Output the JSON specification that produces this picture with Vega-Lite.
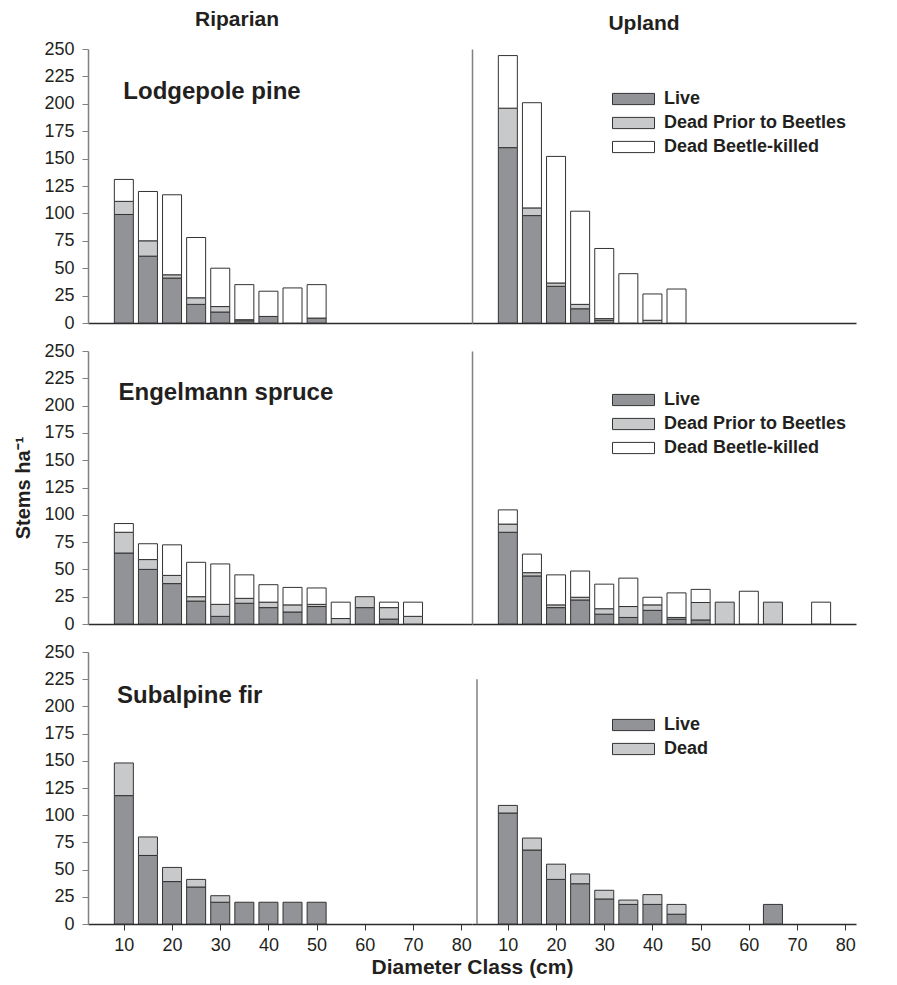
{
  "$schema": "https://vega.github.io/schema/vega-lite/v6.json",
  "background": "white",
  "padding": {"left": 13, "top": 9, "right": 5, "bottom": 5},
  "config": {
    "font": "Liberation Sans",
    "view": {"stroke": null},
    "bar": {"stroke": "#333333", "strokeWidth": 1},
    "axis": {"grid": false, "labelFontSize": 18, "labelColor": "#231f20", "labelFont": "Liberation Sans", "titleFont": "Liberation Sans", "titleFontWeight": "bold", "titleColor": "#231f20", "labelFlush": false, "labelOverlap": false},
    "title": {"font": "Liberation Sans", "fontSize": 21, "fontWeight": "bold", "color": "#231f20"},
    "legend": {"title": null, "symbolType": "M-3,-0.8H3V0.8H-3Z", "symbolSize": 196, "symbolStrokeColor": "#333333", "symbolStrokeWidth": 1, "labelFont": "Liberation Sans", "labelFontSize": 18, "labelFontWeight": "bold", "labelColor": "#231f20", "labelOffset": 21.5, "labelLimit": 0, "rowPadding": 6, "padding": 0}
  },
  "datasets": {
    "lp": [
      {"site": "Riparian", "d": 10, "status": "Live", "n": 99}, {"site": "Riparian", "d": 10, "status": "Dead Prior to Beetles", "n": 12}, {"site": "Riparian", "d": 10, "status": "Dead Beetle-killed", "n": 20},
      {"site": "Riparian", "d": 15, "status": "Live", "n": 61}, {"site": "Riparian", "d": 15, "status": "Dead Prior to Beetles", "n": 14}, {"site": "Riparian", "d": 15, "status": "Dead Beetle-killed", "n": 45},
      {"site": "Riparian", "d": 20, "status": "Live", "n": 41}, {"site": "Riparian", "d": 20, "status": "Dead Prior to Beetles", "n": 3}, {"site": "Riparian", "d": 20, "status": "Dead Beetle-killed", "n": 73},
      {"site": "Riparian", "d": 25, "status": "Live", "n": 17}, {"site": "Riparian", "d": 25, "status": "Dead Prior to Beetles", "n": 6}, {"site": "Riparian", "d": 25, "status": "Dead Beetle-killed", "n": 55},
      {"site": "Riparian", "d": 30, "status": "Live", "n": 10}, {"site": "Riparian", "d": 30, "status": "Dead Prior to Beetles", "n": 5}, {"site": "Riparian", "d": 30, "status": "Dead Beetle-killed", "n": 35},
      {"site": "Riparian", "d": 35, "status": "Live", "n": 2}, {"site": "Riparian", "d": 35, "status": "Dead Prior to Beetles", "n": 1}, {"site": "Riparian", "d": 35, "status": "Dead Beetle-killed", "n": 32},
      {"site": "Riparian", "d": 40, "status": "Live", "n": 6}, {"site": "Riparian", "d": 40, "status": "Dead Beetle-killed", "n": 23},
      {"site": "Riparian", "d": 45, "status": "Dead Beetle-killed", "n": 32},
      {"site": "Riparian", "d": 50, "status": "Live", "n": 4.5}, {"site": "Riparian", "d": 50, "status": "Dead Beetle-killed", "n": 30.5},
      {"site": "Upland", "d": 10, "status": "Live", "n": 160}, {"site": "Upland", "d": 10, "status": "Dead Prior to Beetles", "n": 36}, {"site": "Upland", "d": 10, "status": "Dead Beetle-killed", "n": 48},
      {"site": "Upland", "d": 15, "status": "Live", "n": 98}, {"site": "Upland", "d": 15, "status": "Dead Prior to Beetles", "n": 7}, {"site": "Upland", "d": 15, "status": "Dead Beetle-killed", "n": 96},
      {"site": "Upland", "d": 20, "status": "Live", "n": 33.5}, {"site": "Upland", "d": 20, "status": "Dead Prior to Beetles", "n": 3}, {"site": "Upland", "d": 20, "status": "Dead Beetle-killed", "n": 115.5},
      {"site": "Upland", "d": 25, "status": "Live", "n": 13}, {"site": "Upland", "d": 25, "status": "Dead Prior to Beetles", "n": 4}, {"site": "Upland", "d": 25, "status": "Dead Beetle-killed", "n": 85},
      {"site": "Upland", "d": 30, "status": "Live", "n": 2.5}, {"site": "Upland", "d": 30, "status": "Dead Prior to Beetles", "n": 1.5}, {"site": "Upland", "d": 30, "status": "Dead Beetle-killed", "n": 64},
      {"site": "Upland", "d": 35, "status": "Dead Beetle-killed", "n": 45},
      {"site": "Upland", "d": 40, "status": "Dead Prior to Beetles", "n": 2.5}, {"site": "Upland", "d": 40, "status": "Dead Beetle-killed", "n": 24},
      {"site": "Upland", "d": 45, "status": "Dead Beetle-killed", "n": 31}
    ],
    "es": [
      {"site": "Riparian", "d": 10, "status": "Live", "n": 65}, {"site": "Riparian", "d": 10, "status": "Dead Prior to Beetles", "n": 19}, {"site": "Riparian", "d": 10, "status": "Dead Beetle-killed", "n": 8},
      {"site": "Riparian", "d": 15, "status": "Live", "n": 50}, {"site": "Riparian", "d": 15, "status": "Dead Prior to Beetles", "n": 9}, {"site": "Riparian", "d": 15, "status": "Dead Beetle-killed", "n": 14.5},
      {"site": "Riparian", "d": 20, "status": "Live", "n": 37}, {"site": "Riparian", "d": 20, "status": "Dead Prior to Beetles", "n": 7.5}, {"site": "Riparian", "d": 20, "status": "Dead Beetle-killed", "n": 28},
      {"site": "Riparian", "d": 25, "status": "Live", "n": 21}, {"site": "Riparian", "d": 25, "status": "Dead Prior to Beetles", "n": 4}, {"site": "Riparian", "d": 25, "status": "Dead Beetle-killed", "n": 31.5},
      {"site": "Riparian", "d": 30, "status": "Live", "n": 7}, {"site": "Riparian", "d": 30, "status": "Dead Prior to Beetles", "n": 11}, {"site": "Riparian", "d": 30, "status": "Dead Beetle-killed", "n": 37},
      {"site": "Riparian", "d": 35, "status": "Live", "n": 19}, {"site": "Riparian", "d": 35, "status": "Dead Prior to Beetles", "n": 4.5}, {"site": "Riparian", "d": 35, "status": "Dead Beetle-killed", "n": 21.5},
      {"site": "Riparian", "d": 40, "status": "Live", "n": 15}, {"site": "Riparian", "d": 40, "status": "Dead Prior to Beetles", "n": 5}, {"site": "Riparian", "d": 40, "status": "Dead Beetle-killed", "n": 16},
      {"site": "Riparian", "d": 45, "status": "Live", "n": 11}, {"site": "Riparian", "d": 45, "status": "Dead Prior to Beetles", "n": 6.5}, {"site": "Riparian", "d": 45, "status": "Dead Beetle-killed", "n": 16},
      {"site": "Riparian", "d": 50, "status": "Live", "n": 16}, {"site": "Riparian", "d": 50, "status": "Dead Prior to Beetles", "n": 2}, {"site": "Riparian", "d": 50, "status": "Dead Beetle-killed", "n": 15},
      {"site": "Riparian", "d": 55, "status": "Dead Prior to Beetles", "n": 5}, {"site": "Riparian", "d": 55, "status": "Dead Beetle-killed", "n": 15},
      {"site": "Riparian", "d": 60, "status": "Live", "n": 15}, {"site": "Riparian", "d": 60, "status": "Dead Prior to Beetles", "n": 10},
      {"site": "Riparian", "d": 65, "status": "Live", "n": 4.5}, {"site": "Riparian", "d": 65, "status": "Dead Prior to Beetles", "n": 10.5}, {"site": "Riparian", "d": 65, "status": "Dead Beetle-killed", "n": 5},
      {"site": "Riparian", "d": 70, "status": "Dead Prior to Beetles", "n": 7}, {"site": "Riparian", "d": 70, "status": "Dead Beetle-killed", "n": 13},
      {"site": "Upland", "d": 10, "status": "Live", "n": 84}, {"site": "Upland", "d": 10, "status": "Dead Prior to Beetles", "n": 7.5}, {"site": "Upland", "d": 10, "status": "Dead Beetle-killed", "n": 13},
      {"site": "Upland", "d": 15, "status": "Live", "n": 44}, {"site": "Upland", "d": 15, "status": "Dead Prior to Beetles", "n": 3}, {"site": "Upland", "d": 15, "status": "Dead Beetle-killed", "n": 17},
      {"site": "Upland", "d": 20, "status": "Live", "n": 15}, {"site": "Upland", "d": 20, "status": "Dead Prior to Beetles", "n": 2.5}, {"site": "Upland", "d": 20, "status": "Dead Beetle-killed", "n": 27.5},
      {"site": "Upland", "d": 25, "status": "Live", "n": 22}, {"site": "Upland", "d": 25, "status": "Dead Prior to Beetles", "n": 2.5}, {"site": "Upland", "d": 25, "status": "Dead Beetle-killed", "n": 24},
      {"site": "Upland", "d": 30, "status": "Live", "n": 9}, {"site": "Upland", "d": 30, "status": "Dead Prior to Beetles", "n": 5}, {"site": "Upland", "d": 30, "status": "Dead Beetle-killed", "n": 22.5},
      {"site": "Upland", "d": 35, "status": "Live", "n": 6}, {"site": "Upland", "d": 35, "status": "Dead Prior to Beetles", "n": 10}, {"site": "Upland", "d": 35, "status": "Dead Beetle-killed", "n": 26},
      {"site": "Upland", "d": 40, "status": "Live", "n": 12.5}, {"site": "Upland", "d": 40, "status": "Dead Prior to Beetles", "n": 5}, {"site": "Upland", "d": 40, "status": "Dead Beetle-killed", "n": 7},
      {"site": "Upland", "d": 45, "status": "Live", "n": 4.5}, {"site": "Upland", "d": 45, "status": "Dead Prior to Beetles", "n": 1.5}, {"site": "Upland", "d": 45, "status": "Dead Beetle-killed", "n": 22.5},
      {"site": "Upland", "d": 50, "status": "Live", "n": 3.7}, {"site": "Upland", "d": 50, "status": "Dead Prior to Beetles", "n": 16}, {"site": "Upland", "d": 50, "status": "Dead Beetle-killed", "n": 12},
      {"site": "Upland", "d": 55, "status": "Dead Prior to Beetles", "n": 20},
      {"site": "Upland", "d": 60, "status": "Dead Beetle-killed", "n": 30},
      {"site": "Upland", "d": 65, "status": "Dead Prior to Beetles", "n": 20},
      {"site": "Upland", "d": 75, "status": "Dead Beetle-killed", "n": 20}
    ],
    "sf": [
      {"site": "Riparian", "d": 10, "status": "Live", "n": 118}, {"site": "Riparian", "d": 10, "status": "Dead", "n": 30},
      {"site": "Riparian", "d": 15, "status": "Live", "n": 63}, {"site": "Riparian", "d": 15, "status": "Dead", "n": 17},
      {"site": "Riparian", "d": 20, "status": "Live", "n": 39}, {"site": "Riparian", "d": 20, "status": "Dead", "n": 13},
      {"site": "Riparian", "d": 25, "status": "Live", "n": 34}, {"site": "Riparian", "d": 25, "status": "Dead", "n": 7},
      {"site": "Riparian", "d": 30, "status": "Live", "n": 20}, {"site": "Riparian", "d": 30, "status": "Dead", "n": 6},
      {"site": "Riparian", "d": 35, "status": "Live", "n": 20},
      {"site": "Riparian", "d": 40, "status": "Live", "n": 20},
      {"site": "Riparian", "d": 45, "status": "Live", "n": 20},
      {"site": "Riparian", "d": 50, "status": "Live", "n": 20},
      {"site": "Upland", "d": 10, "status": "Live", "n": 102}, {"site": "Upland", "d": 10, "status": "Dead", "n": 7},
      {"site": "Upland", "d": 15, "status": "Live", "n": 68}, {"site": "Upland", "d": 15, "status": "Dead", "n": 11},
      {"site": "Upland", "d": 20, "status": "Live", "n": 41}, {"site": "Upland", "d": 20, "status": "Dead", "n": 14},
      {"site": "Upland", "d": 25, "status": "Live", "n": 37}, {"site": "Upland", "d": 25, "status": "Dead", "n": 9},
      {"site": "Upland", "d": 30, "status": "Live", "n": 23}, {"site": "Upland", "d": 30, "status": "Dead", "n": 8},
      {"site": "Upland", "d": 35, "status": "Live", "n": 18}, {"site": "Upland", "d": 35, "status": "Dead", "n": 4},
      {"site": "Upland", "d": 40, "status": "Live", "n": 18}, {"site": "Upland", "d": 40, "status": "Dead", "n": 9},
      {"site": "Upland", "d": 45, "status": "Live", "n": 9}, {"site": "Upland", "d": 45, "status": "Dead", "n": 9},
      {"site": "Upland", "d": 65, "status": "Live", "n": 18}
    ]
  },
  "columns": 2,
  "spacing": {"row": 28, "column": 0},
  "bounds": "flush",
  "resolve": {"scale": {"color": "independent", "x": "independent", "y": "independent"}, "legend": {"color": "independent"}, "axis": {"x": "independent", "y": "independent"}},
  "concat": [
    {
      "width": 384, "height": 274,
      "title": {"text": "Riparian", "dx": -43, "offset": 10},
      "layer": [
        {
          "data": {"name": "lp"}, "transform": [{"filter": "datum.site === 'Riparian'"}],
          "mark": {"type": "bar", "size": 19},
          "encoding": {
            "x": {"field": "d", "type": "quantitative", "scale": {"domain": [3.6, 81.2], "nice": false, "zero": false}, "axis": {"labels": false, "ticks": false, "title": null, "domainColor": "#2b2b2b", "domainWidth": 1.5}},
            "y": {"field": "n", "type": "quantitative", "stack": "zero", "title": null, "scale": {"domain": [0, 250], "nice": false}, "axis": {"values": [0, 25, 50, 75, 100, 125, 150, 175, 200, 225, 250], "labelOverlap": false, "tickSize": 6, "labelPadding": 8, "domainColor": "#808080", "tickColor": "#808080", "domainWidth": 1.5}},
            "color": {"field": "status", "type": "nominal", "sort": ["Live", "Dead Prior to Beetles", "Dead Beetle-killed"], "scale": {"domain": ["Live", "Dead Prior to Beetles", "Dead Beetle-killed"], "range": ["#929397", "#c8c9cb", "#ffffff"]}, "legend": null}
          }
        },
        {
          "data": {"values": [{"label": "Lodgepole pine"}]},
          "mark": {"type": "text", "align": "left", "baseline": "alphabetic", "fontSize": 24, "fontWeight": "bold", "color": "#231f20"},
          "encoding": {
            "x": {"datum": 9.9, "type": "quantitative", "axis": {"labels": false, "ticks": false, "title": null, "domainColor": "#2b2b2b", "domainWidth": 1.5}},
            "y": {"datum": 204.7, "type": "quantitative", "title": null, "axis": {"values": [0, 25, 50, 75, 100, 125, 150, 175, 200, 225, 250], "labelOverlap": false, "tickSize": 6, "labelPadding": 8, "domainColor": "#808080", "tickColor": "#808080", "domainWidth": 1.5}},
            "text": {"field": "label"}
          }
        }
      ]
    },
    {
      "width": 384, "height": 274,
      "title": {"text": "Upland", "dx": -20, "offset": 15},
      "data": {"name": "lp"}, "transform": [{"filter": "datum.site === 'Upland'"}],
      "mark": {"type": "bar", "size": 19},
      "encoding": {
        "x": {"field": "d", "type": "quantitative", "scale": {"domain": [3.6, 81.2], "nice": false, "zero": false}, "axis": {"labels": false, "ticks": false, "title": null, "domainColor": "#2b2b2b", "domainWidth": 1.5}},
        "y": {"field": "n", "type": "quantitative", "stack": "zero", "title": null, "scale": {"domain": [0, 250], "nice": false}, "axis": {"labels": false, "ticks": false, "domainColor": "#808080", "domainWidth": 1.5}},
        "color": {"field": "status", "type": "nominal", "sort": ["Live", "Dead Prior to Beetles", "Dead Beetle-killed"], "scale": {"domain": ["Live", "Dead Prior to Beetles", "Dead Beetle-killed"], "range": ["#929397", "#c8c9cb", "#ffffff"]}, "legend": {"orient": "none", "legendX": 152.5, "legendY": 41}}
      }
    },
    {
      "width": 384, "height": 273,
      "layer": [
        {
          "data": {"name": "es"}, "transform": [{"filter": "datum.site === 'Riparian'"}],
          "mark": {"type": "bar", "size": 19},
          "encoding": {
            "x": {"field": "d", "type": "quantitative", "scale": {"domain": [3.6, 81.2], "nice": false, "zero": false}, "axis": {"labels": false, "ticks": false, "title": null, "domainColor": "#2b2b2b", "domainWidth": 1.5}},
            "y": {"field": "n", "type": "quantitative", "stack": "zero", "title": "Stems ha⁻¹", "scale": {"domain": [0, 250], "nice": false}, "axis": {"values": [0, 25, 50, 75, 100, 125, 150, 175, 200, 225, 250], "labelOverlap": false, "tickSize": 6, "labelPadding": 8, "domainColor": "#808080", "tickColor": "#808080", "domainWidth": 1.5, "titleFontSize": 20, "titlePadding": 10}},
            "color": {"field": "status", "type": "nominal", "sort": ["Live", "Dead Prior to Beetles", "Dead Beetle-killed"], "scale": {"domain": ["Live", "Dead Prior to Beetles", "Dead Beetle-killed"], "range": ["#929397", "#c8c9cb", "#ffffff"]}, "legend": null}
          }
        },
        {
          "data": {"values": [{"label": "Engelmann spruce"}]},
          "mark": {"type": "text", "align": "left", "baseline": "alphabetic", "fontSize": 24, "fontWeight": "bold", "color": "#231f20"},
          "encoding": {
            "x": {"datum": 8.9, "type": "quantitative", "axis": {"labels": false, "ticks": false, "title": null, "domainColor": "#2b2b2b", "domainWidth": 1.5}},
            "y": {"datum": 205.4, "type": "quantitative", "title": "Stems ha⁻¹", "axis": {"values": [0, 25, 50, 75, 100, 125, 150, 175, 200, 225, 250], "labelOverlap": false, "tickSize": 6, "labelPadding": 8, "domainColor": "#808080", "tickColor": "#808080", "domainWidth": 1.5, "titleFontSize": 20, "titlePadding": 10}},
            "text": {"field": "label"}
          }
        }
      ]
    },
    {
      "width": 384, "height": 273,
      "data": {"name": "es"}, "transform": [{"filter": "datum.site === 'Upland'"}],
      "mark": {"type": "bar", "size": 19},
      "encoding": {
        "x": {"field": "d", "type": "quantitative", "scale": {"domain": [3.6, 81.2], "nice": false, "zero": false}, "axis": {"labels": false, "ticks": false, "title": null, "domainColor": "#2b2b2b", "domainWidth": 1.5}},
        "y": {"field": "n", "type": "quantitative", "stack": "zero", "title": null, "scale": {"domain": [0, 250], "nice": false}, "axis": {"labels": false, "ticks": false, "domainColor": "#808080", "domainWidth": 1.5}},
        "color": {"field": "status", "type": "nominal", "sort": ["Live", "Dead Prior to Beetles", "Dead Beetle-killed"], "scale": {"domain": ["Live", "Dead Prior to Beetles", "Dead Beetle-killed"], "range": ["#929397", "#c8c9cb", "#ffffff"]}, "legend": {"orient": "none", "legendX": 152.5, "legendY": 40}}
      }
    },
    {
      "width": 384, "height": 272,
      "layer": [
        {
          "data": {"name": "sf"}, "transform": [{"filter": "datum.site === 'Riparian'"}],
          "mark": {"type": "bar", "size": 19},
          "encoding": {
            "x": {"field": "d", "type": "quantitative", "title": "Diameter Class (cm)", "scale": {"domain": [3.6, 81.2], "nice": false, "zero": false}, "axis": {"values": [10, 20, 30, 40, 50, 60, 70, 80], "labelOverlap": false, "tickSize": 6, "tickColor": "#333333", "domainColor": "#2b2b2b", "domainWidth": 1.5, "labelPadding": 6, "titleX": 384, "titleFontSize": 21, "titlePadding": 2}},
            "y": {"field": "n", "type": "quantitative", "stack": "zero", "title": null, "scale": {"domain": [0, 250], "nice": false}, "axis": {"values": [0, 25, 50, 75, 100, 125, 150, 175, 200, 225, 250], "labelOverlap": false, "tickSize": 6, "labelPadding": 8, "domainColor": "#808080", "tickColor": "#808080", "domainWidth": 1.5}},
            "color": {"field": "status", "type": "nominal", "sort": ["Live", "Dead"], "scale": {"domain": ["Live", "Dead"], "range": ["#929397", "#c8c9cb"]}, "legend": null}
          }
        },
        {
          "data": {"values": [{"label": "Subalpine fir"}]},
          "mark": {"type": "text", "align": "left", "baseline": "alphabetic", "fontSize": 24, "fontWeight": "bold", "color": "#231f20"},
          "encoding": {
            "x": {"datum": 8.6, "type": "quantitative", "title": "Diameter Class (cm)", "axis": {"values": [10, 20, 30, 40, 50, 60, 70, 80], "labelOverlap": false, "tickSize": 6, "tickColor": "#333333", "domainColor": "#2b2b2b", "domainWidth": 1.5, "labelPadding": 6, "titleX": 384, "titleFontSize": 21, "titlePadding": 2}},
            "y": {"datum": 203.1, "type": "quantitative", "title": null, "axis": {"values": [0, 25, 50, 75, 100, 125, 150, 175, 200, 225, 250], "labelOverlap": false, "tickSize": 6, "labelPadding": 8, "domainColor": "#808080", "tickColor": "#808080", "domainWidth": 1.5}},
            "text": {"field": "label"}
          }
        }
      ]
    },
    {
      "width": 384, "height": 272,
      "layer": [
        {
          "data": {"name": "sf"}, "transform": [{"filter": "datum.site === 'Upland'"}],
          "mark": {"type": "bar", "size": 19},
          "encoding": {
            "x": {"field": "d", "type": "quantitative", "title": null, "scale": {"domain": [3.6, 81.2], "nice": false, "zero": false}, "axis": {"values": [10, 20, 30, 40, 50, 60, 70, 80], "labelOverlap": false, "tickSize": 6, "tickColor": "#333333", "domainColor": "#2b2b2b", "domainWidth": 1.5, "labelPadding": 6}},
            "y": {"field": "n", "type": "quantitative", "stack": "zero", "title": null, "scale": {"domain": [0, 250], "nice": false}, "axis": {"labels": false, "ticks": false, "domain": false}},
            "color": {"field": "status", "type": "nominal", "sort": ["Live", "Dead"], "scale": {"domain": ["Live", "Dead"], "range": ["#929397", "#c8c9cb"]}, "legend": {"orient": "none", "legendX": 152.5, "legendY": 64}}
          }
        },
        {
          "data": {"values": [{}]},
          "mark": {"type": "rule", "color": "#808080", "strokeWidth": 1.5},
          "encoding": {
            "x": {"datum": 3.6, "type": "quantitative", "axis": {"values": [10, 20, 30, 40, 50, 60, 70, 80], "labelOverlap": false, "tickSize": 6, "tickColor": "#333333", "domainColor": "#2b2b2b", "domainWidth": 1.5, "labelPadding": 6}},
            "y": {"datum": 0, "type": "quantitative", "axis": {"labels": false, "ticks": false, "domain": false}},
            "y2": {"datum": 225}
          }
        }
      ]
    }
  ]
}
